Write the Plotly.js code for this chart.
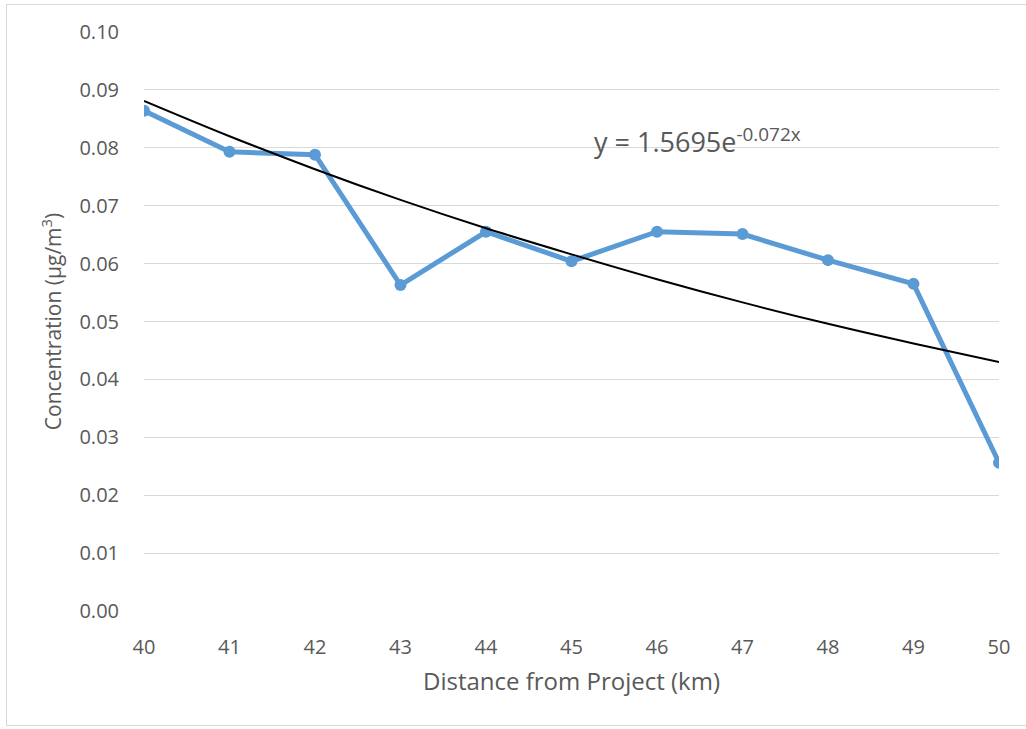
<!DOCTYPE html>
<html>
<head>
<meta charset="utf-8">
<script src="https://cdn.plot.ly/plotly-3.0.1.min.js"></script>
<style>
html,body{margin:0;padding:0;background:#fff;}
#frame{position:absolute;left:6px;top:4px;width:1030px;height:722px;border:1px solid #d9d9d9;box-sizing:border-box;}
#chart{position:absolute;left:0;top:0;width:1026px;height:729px;}
</style>
</head>
<body>
<div id="frame"></div>
<div id="chart"></div>
<script>
const distance = [40, 41, 42, 43, 44, 45, 46, 47, 48, 49, 50];
const concentration = [0.0864, 0.0793, 0.0788, 0.0563, 0.0655, 0.0604, 0.0655, 0.0651, 0.0606, 0.0565, 0.0256];
const trendValues = [0.0881, 0.0820, 0.0763, 0.0710, 0.0661, 0.0616, 0.0573, 0.0533, 0.0496, 0.0462, 0.0430];
const yTicks = [0, 0.01, 0.02, 0.03, 0.04, 0.05, 0.06, 0.07, 0.08, 0.09, 0.10];
const yTickLabels = ["0.00","0.01","0.02","0.03","0.04","0.05","0.06","0.07","0.08","0.09","0.10"];
const equationText = "y = 1.5695e<sup>-0.072x</sup>";

const font = "Open Sans, Noto Sans, sans-serif";

const data = [
  {
    x: distance, y: concentration, type: "scatter", mode: "lines+markers",
    line: {color: "#5B9BD5", width: 5},
    marker: {color: "#5B9BD5", size: 12},
    hoverinfo: "x+y"
  },
  {
    x: distance, y: trendValues, type: "scatter", mode: "lines",
    line: {color: "#000000", width: 2, shape: "spline"},
    hoverinfo: "skip"
  }
];

const layout = {
  width: 1026, height: 729,
  paper_bgcolor: "rgba(0,0,0,0)", plot_bgcolor: "#ffffff",
  margin: {l: 144, r: 27, t: 32, b: 118},
  showlegend: false,
  font: {family: font, color: "#595959", size: 18},
  xaxis: {
    range: [40, 50], tickvals: distance, ticktext: distance.map(String),
    showgrid: false, zeroline: false, showline: false,
    ticks: "outside", ticklen: 18, tickcolor: "rgba(0,0,0,0)",
    tickfont: {family: font, size: 20, color: "#595959"},
    title: {text: "Distance from Project (km)", font: {family: font, size: 24, color: "#595959"}, standoff: 14}
  },
  yaxis: {
    range: [0, 0.10], tickvals: yTicks, ticktext: yTickLabels,
    showgrid: true, gridcolor: "#d9d9d9", gridwidth: 1,
    zeroline: false, showline: false,
    ticks: "outside", ticklen: 20, tickcolor: "rgba(0,0,0,0)",
    tickfont: {family: font, size: 20, color: "#595959"},
    title: {text: "Concentration (µg/m<sup>3</sup>)", font: {family: font, size: 21, color: "#595959"}, standoff: 12}
  },
  annotations: [{
    x: 45.24, y: 0.0812, xref: "x", yref: "y", xanchor: "left", yanchor: "middle",
    text: equationText, showarrow: false,
    font: {family: font, size: 27, color: "#595959"}
  }]
};

Plotly.newPlot("chart", data, layout, {displayModeBar: false, staticPlot: true});
</script>
</body>
</html>
